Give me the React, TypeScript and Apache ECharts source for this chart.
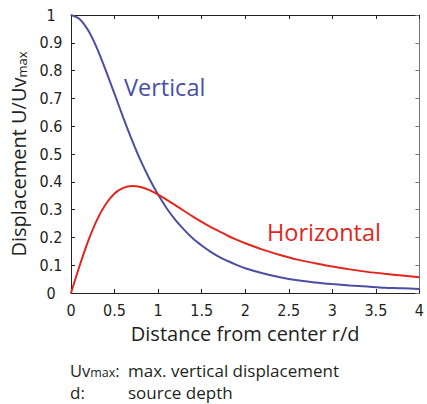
import React, { useEffect, useRef } from "react";
import * as echarts from "echarts";

// distance from center r/d
const distance = [
  0, 0.1, 0.2, 0.3, 0.4, 0.5, 0.6, 0.7, 0.8, 0.9, 1.0,
  1.1, 1.2, 1.3, 1.4, 1.5, 1.6, 1.7, 1.8, 1.9, 2.0,
  2.2, 2.4, 2.6, 2.8, 3.0, 3.2, 3.4, 3.6, 3.8, 4.0,
];
// vertical displacement U/Uvmax
const vertical = [
  1.0, 0.985, 0.943, 0.879, 0.8, 0.716, 0.631, 0.55, 0.476, 0.411, 0.354,
  0.304, 0.262, 0.227, 0.196, 0.171, 0.149, 0.13, 0.115, 0.101, 0.089,
  0.071, 0.057, 0.046, 0.038, 0.032, 0.027, 0.023, 0.019, 0.017, 0.014,
];
// horizontal displacement U/Uvmax
const horizontal = [
  0, 0.099, 0.189, 0.264, 0.32, 0.358, 0.378, 0.385, 0.381, 0.37, 0.354,
  0.335, 0.315, 0.295, 0.275, 0.256, 0.238, 0.222, 0.206, 0.192, 0.179,
  0.156, 0.137, 0.12, 0.107, 0.095, 0.085, 0.076, 0.069, 0.063, 0.057,
];

const BLUE = "#4b4fa3";
const RED = "#e3261d";
const TEXT = "#231f20";
const FONT = "'Open Sans', 'Noto Sans', sans-serif";
const TICK_FONT = "'Liberation Sans Narrow', 'DejaVu Sans Condensed', 'Open Sans', sans-serif";

export default function App() {
  const ref = useRef<HTMLDivElement>(null);

  useEffect(() => {
    if (!ref.current) return;
    const chart = echarts.init(ref.current, undefined, { renderer: "svg" });
    const vData = distance.map((x, i) => [x, vertical[i]]);
    const hData = distance.map((x, i) => [x, horizontal[i]]);

    const tickStyle = { show: true, inside: true, length: 4, lineStyle: { color: "#222", width: 1 } };

    chart.setOption({
      animation: false,
      backgroundColor: "#ffffff",
      grid: { left: 69, right: 7, top: 15, bottom: 111, containLabel: false },
      xAxis: [
        {
          type: "value",
          min: 0,
          max: 4,
          interval: 0.5,
          position: "bottom",
          axisLine: { show: true, lineStyle: { color: "#222", width: 1 } },
          axisTick: tickStyle,
          splitLine: { show: false },
          axisLabel: { color: TEXT, fontSize: 16, fontFamily: TICK_FONT, margin: 9 },
          name: "Distance from center r/d",
          nameLocation: "middle",
          nameGap: 30,
          nameTextStyle: { color: TEXT, fontSize: 20, fontFamily: FONT },
        },
        {
          type: "value",
          min: 0,
          max: 4,
          interval: 0.5,
          position: "top",
          axisLine: { show: true, onZero: false, lineStyle: { color: "#222", width: 1 } },
          axisTick: tickStyle,
          axisLabel: { show: false },
          splitLine: { show: false },
        },
      ],
      yAxis: [
        {
          type: "value",
          min: 0,
          max: 1,
          interval: 0.1,
          position: "left",
          axisLine: { show: true, lineStyle: { color: "#222", width: 1 } },
          axisTick: tickStyle,
          splitLine: { show: false },
          axisLabel: {
            color: TEXT,
            fontSize: 16,
            fontFamily: TICK_FONT,
            align: "center",
            margin: 20,
            formatter: (v: number) => (Math.round(v * 10) / 10).toString(),
          },
          name: "{n|Displacement U/Uv}{s|max}",
          nameLocation: "middle",
          nameRotate: 90,
          nameGap: 43,
          nameTextStyle: {
            color: TEXT,
            rich: {
              n: { fontSize: 20, fontFamily: FONT, color: TEXT },
              s: { fontSize: 13, fontFamily: FONT, color: TEXT, verticalAlign: "bottom", padding: [6, 0, 0, 0] },
            },
          },
        },
        {
          type: "value",
          min: 0,
          max: 1,
          interval: 0.1,
          position: "right",
          axisLine: { show: true, onZero: false, lineStyle: { color: "#777", width: 1 } },
          axisTick: { ...tickStyle, lineStyle: { color: "#777", width: 1 } },
          axisLabel: { show: false },
          splitLine: { show: false },
        },
      ],
      series: [
        {
          name: "Vertical",
          type: "line",
          data: vData,
          showSymbol: false,
          smooth: 0.3,
          lineStyle: { color: BLUE, width: 2 },
          itemStyle: { color: BLUE },
          z: 3,
        },
        {
          name: "Horizontal",
          type: "line",
          data: hData,
          showSymbol: false,
          smooth: 0.3,
          lineStyle: { color: RED, width: 2 },
          itemStyle: { color: RED },
          z: 4,
        },
      ],
      graphic: [
        {
          type: "text",
          left: 124,
          top: 75,
          style: { text: "Vertical", fill: BLUE, fontSize: 23.5, fontFamily: FONT },
        },
        {
          type: "text",
          left: 267,
          top: 220,
          style: { text: "Horizontal", fill: RED, fontSize: 23.5, fontFamily: FONT },
        },
        {
          type: "text",
          left: 70,
          top: 362,
          style: {
            text: "{a|Uv}{b|max}{a|:}",
            rich: {
              a: { fontSize: 16.5, fontFamily: FONT, fill: TEXT },
              b: { fontSize: 12.5, fontFamily: FONT, fill: TEXT, verticalAlign: "bottom" },
            },
          },
        },
        {
          type: "text",
          left: 128,
          top: 362,
          style: { text: "max. vertical displacement", fill: TEXT, fontSize: 17, fontFamily: FONT },
        },
        {
          type: "text",
          left: 70,
          top: 384,
          style: { text: "d:", fill: TEXT, fontSize: 17, fontFamily: FONT },
        },
        {
          type: "text",
          left: 128,
          top: 384,
          style: { text: "source depth", fill: TEXT, fontSize: 17, fontFamily: FONT },
        },
      ],
    });
    return () => chart.dispose();
  }, []);

  return (
    <div
      ref={ref}
      style={{ position: "absolute", left: 0, top: 0, width: 427, height: 404, background: "#fff" }}
    />
  );
}
